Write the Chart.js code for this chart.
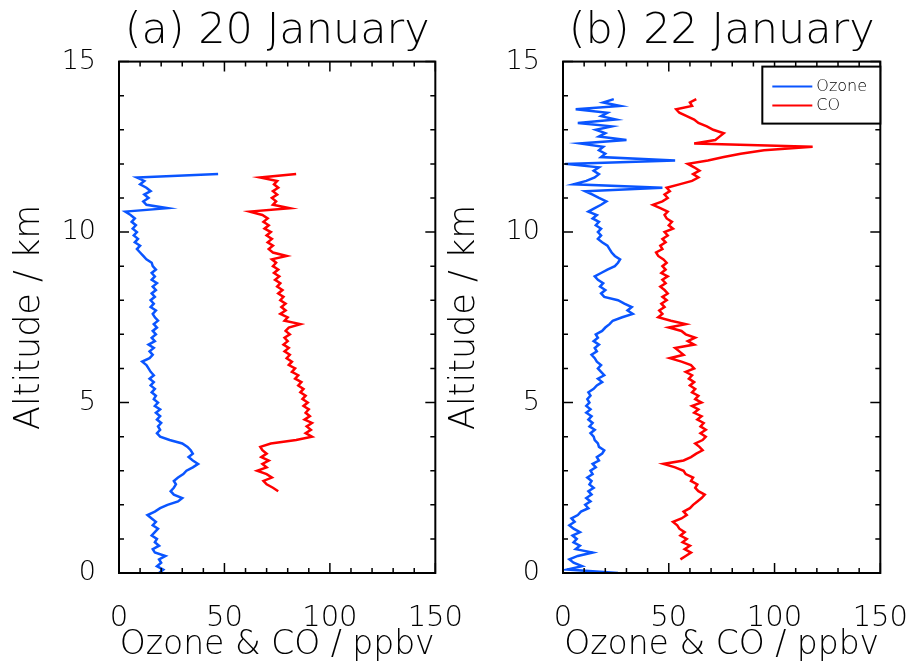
<!DOCTYPE html>
<html lang="en">
<head>
<meta charset="UTF-8">
<title>Ozone & CO profiles</title>
<script src="https://cdn.jsdelivr.net/npm/chart.js"></script>
<style>
    body { margin: 0; background: #fff; overflow: hidden; }
    #wrap { position: relative; width: 915px; height: 671px; overflow: hidden; }
    canvas { position: absolute; top: 0; }
</style>
</head>
<body>
<div id="wrap">
    <canvas id="chartA" width="483" height="671" style="left:0px"></canvas>
    <canvas id="chartB" width="488" height="671" style="left:440px"></canvas>
</div>
<script>
// altitude levels (km), shared by all four profiles
const altitudeKm = [
    0.0, 0.1, 0.2, 0.3, 0.4, 0.5, 0.6, 0.7, 0.8, 0.9,
    1.0, 1.1, 1.2, 1.3, 1.4, 1.5, 1.6, 1.7, 1.8, 1.9,
    2.0, 2.1, 2.2, 2.3, 2.4, 2.5, 2.6, 2.7, 2.8, 2.9,
    3.0, 3.1, 3.2, 3.3, 3.4, 3.5, 3.6, 3.7, 3.8, 3.9,
    4.0, 4.1, 4.2, 4.3, 4.4, 4.5, 4.6, 4.7, 4.8, 4.9,
    5.0, 5.1, 5.2, 5.3, 5.4, 5.5, 5.6, 5.7, 5.8, 5.9,
    6.0, 6.1, 6.2, 6.3, 6.4, 6.5, 6.6, 6.7, 6.8, 6.9,
    7.0, 7.1, 7.2, 7.3, 7.4, 7.5, 7.6, 7.7, 7.8, 7.9,
    8.0, 8.1, 8.2, 8.3, 8.4, 8.5, 8.6, 8.7, 8.8, 8.9,
    9.0, 9.1, 9.2, 9.3, 9.4, 9.5, 9.6, 9.7, 9.8, 9.9,
    10.0, 10.1, 10.2, 10.3, 10.4, 10.5, 10.6, 10.7, 10.8, 10.9,
    11.0, 11.1, 11.2, 11.3, 11.4, 11.5, 11.6, 11.7, 11.8, 11.9,
    12.0, 12.1, 12.2, 12.3, 12.4, 12.5, 12.6, 12.7, 12.8, 12.9,
    13.0, 13.1, 13.2, 13.3, 13.4, 13.5, 13.6, 13.7, 13.8, 13.9,
    14.0
];

// (a) 20 January, ppbv
const ozoneJan20 = [
    19, 21, 18, 20, 19, 22, 17, 16, 19, 17,
    18, 15.5, 17, 18.5, 16, 17.5, 15.5, 13.5, 17, 19.5,
    23, 28, 30, 26, 24.5, 26, 27, 26, 28, 30.5,
    32, 35, 37.5, 35, 33, 35, 34, 32.5, 30, 24,
    19.5, 18, 19.5, 18.5, 20, 18, 19.5, 17.5, 19.5, 17,
    18.5, 16.5, 17.5, 15.5, 17, 15, 16.5, 14.5, 16.5, 15,
    14, 13, 11, 14.5, 16, 14.5, 16.5, 14, 17, 15.5,
    17.5, 16, 18, 16.5, 18.5, 17, 16, 17.5, 15, 16.5,
    15, 17, 15.5, 17.5, 16, 18, 15.5, 17, 15.5, 17.5,
    16, 15.5, 13, 11.5, 10, 8.5, 10, 7.5, 9, 7,
    8.5, 6.5, 8, 6, 7.5, 5.5, 3, 23, 13, 11.5,
    14, 12, 15, 13, 10, 12, 8.5, 47, null, null,
    null, null, null, null, null, null, null, null, null, null,
    null, null, null, null, null, null, null, null, null, null,
    null
];
const coJan20 = [
    null, null, null, null, null, null, null, null, null, null,
    null, null, null, null, null, null, null, null, null, null,
    null, null, null, null, 75.5, 73, 70, 68.5, 72.5, 70,
    65.5, 70, 68, 71, 67.5, 70, 68, 67, 72, 84,
    91.5, 88.5, 91, 89, 91.5, 88, 90.5, 88.5, 90, 87.5,
    89.5, 87, 88.5, 86, 87.5, 85, 86.5, 83.5, 85, 82,
    83.5, 80.5, 82, 79.5, 81, 78.5, 80.5, 78, 80, 78.5,
    81, 79, 80.5, 86, 78.5, 80, 76.5, 79, 77, 79,
    76.5, 78, 75.5, 77.5, 75, 76.5, 74, 76, 73.5, 75.5,
    73, 74.5, 72.5, 79.5, 73, 71, 73, 70.5, 72.5, 70,
    72, 69, 71, 68.5, 70.5, 68, 62, 81, 73, 74.5,
    72.5, 75, 73, 75.5, 73.5, 75, 67, 84, null, null,
    null, null, null, null, null, null, null, null, null, null,
    null, null, null, null, null, null, null, null, null, null,
    null
];

// (b) 22 January, ppbv
const ozoneJan22 = [
    26, 2, 9, 5, 3, 7, 14, 6, 8, 5,
    6.5, 4.5, 8, 5, 3, 5.5, 4, 7, 8.5, 12,
    10.5, 13, 11, 13.5, 12, 14.5, 12.5, 13.5, 11.5, 14,
    13, 15.5, 14, 17, 16, 18.5, 19.5, 17, 16.5, 15,
    14.5, 13, 15, 12.5, 14, 12, 13.5, 11, 13, 11,
    12.5, 11.5, 13, 12, 14.5, 16, 18.5, 16.5, 19.5, 18,
    16.5, 18, 16, 15, 13.5, 16, 15, 17, 14.5, 16.5,
    15.5, 18.5, 20, 22, 23.5, 28, 33, 30.5, 32.5, 29,
    26, 19.5, 18, 20, 17.5, 19, 16.5, 15, 18, 21,
    24.5, 26, 27, 24.5, 23, 22, 21, 18.5, 16.5, 18,
    16.5, 18, 15.5, 17, 14, 16, 12, 15, 18, 20.5,
    17, 14, 10.5, 47, 5, 11, 15, 17, 14.5, 17,
    1, 53, 18, 20, 17, 19, 8, 30, 17, 20,
    15.5, 23, 7, 25, 18, 21, 6, 27, 19, 24,
    null
];
const coJan22 = [
    null, null, null, null, 55.5, 58, 60.5, 57.5, 60, 56.5,
    58.5, 55.5, 57.5, 55, 54, 52, 56, 58.5, 57, 60,
    61.5, 63.5, 65.5, 67, 64, 62.5, 63.5, 60.5, 61.5, 58,
    57, 53, 47.5, 57, 60.5, 63, 66, 64.5, 62.5, 66,
    67.5, 65, 67.5, 65, 66.5, 63.5, 65.5, 62, 64, 61,
    65.5, 62.5, 64, 61, 62.5, 60, 62, 59.5, 61, 58,
    62, 60.5, 56, 50.5, 57, 55, 53, 62, 59, 62.5,
    58, 56, 50, 58, 51, 45, 47, 45.5, 48, 46.5,
    49, 47, 49.5, 48, 46, 48.5, 47, 49.5, 46.5, 48.5,
    47, 49, 47.5, 45, 44, 47, 46, 48.5, 47, 49.5,
    48, 52, 50, 51.5, 49, 48, 49.5, 46, 42.5, 47,
    49.5, 48, 50.5, 49, 55, 61, 64, 61.5, 64.5, 62,
    59, 68.5, 76, 84, 95, 118, 62, 72, 74, 76,
    71, 68, 64, 62, 58.5, 55, 53.5, 61, 60, 63,
    null
];

const xTickMarks = [0, 10, 20, 30, 40, 50, 60, 70, 80, 90, 100, 110, 120, 130, 140, 150];
const xMajor = [0, 50, 100, 150];
const yTickMarks = [0, 1, 2, 3, 4, 5, 6, 7, 8, 9, 10, 11, 12, 13, 14, 15];
const yMajor = [0, 5, 10, 15];

const BLUE = '#0a55ff';
const RED = '#ff0000';
const FONT = '"DejaVu Sans", sans-serif';

Chart.defaults.color = '#000';
Chart.defaults.font.family = FONT;
Chart.defaults.font.weight = 200;

function profile(values) {
    return altitudeKm.map(function (a, i) {
        return { x: values[i], y: a };
    }).filter(function (p) { return p.x !== null; });
}

// IDL-like frame with inward ticks on all four sides
const frameTicks = {
    id: 'frameTicks',
    afterDatasetsDraw(chart) {
        const ctx = chart.ctx;
        const a = chart.chartArea;
        const sx = chart.scales.x, sy = chart.scales.y;
        ctx.save();
        ctx.strokeStyle = '#000';
        ctx.lineWidth = 1.5;
        ctx.beginPath();
        xTickMarks.forEach(function (v) {
            const px = sx.getPixelForValue(v);
            const len = xMajor.includes(v) ? 10 : 5;
            ctx.moveTo(px, a.bottom); ctx.lineTo(px, a.bottom - len);
            ctx.moveTo(px, a.top); ctx.lineTo(px, a.top + len);
        });
        yTickMarks.forEach(function (v) {
            const py = sy.getPixelForValue(v);
            const len = yMajor.includes(v) ? 10 : 5;
            ctx.moveTo(a.left, py); ctx.lineTo(a.left + len, py);
            ctx.moveTo(a.right, py); ctx.lineTo(a.right - len, py);
        });
        ctx.stroke();
        ctx.lineWidth = 2;
        ctx.strokeRect(a.left, a.top, a.right - a.left, a.bottom - a.top);
        ctx.restore();
    }
};

// boxed legend in the upper right corner of the plot
const boxLegend = {
    id: 'boxLegend',
    afterDraw(chart) {
        const ctx = chart.ctx;
        const a = chart.chartArea;
        const w = 118, h = 57;
        const x0 = a.right - w, y0 = a.top + 5;
        ctx.save();
        ctx.fillStyle = '#fff';
        ctx.fillRect(x0, y0, w, h);
        ctx.strokeStyle = '#000';
        ctx.lineWidth = 2;
        ctx.strokeRect(x0, y0, w, h);
        ctx.font = '200 16px ' + FONT;
        ctx.textBaseline = 'middle';
        chart.data.datasets.forEach(function (ds, i) {
            const y = y0 + 20 + i * 19;
            ctx.strokeStyle = ds.borderColor;
            ctx.lineWidth = 2;
            ctx.beginPath();
            ctx.moveTo(x0 + 10, y); ctx.lineTo(x0 + 50, y);
            ctx.stroke();
            ctx.fillStyle = '#000';
            ctx.fillText(ds.label, x0 + 54, y);
        });
        ctx.restore();
    }
};

function makeChart(id, title, ozone, co, yWidth, yTitlePad, plugins) {
    return new Chart(document.getElementById(id), {
        type: 'scatter',
        data: {
            datasets: [
                { label: 'Ozone', data: profile(ozone), borderColor: BLUE, backgroundColor: BLUE },
                { label: 'CO', data: profile(co), borderColor: RED, backgroundColor: RED }
            ]
        },
        options: {
            responsive: false,
            animation: false,
            showLine: true,
            elements: {
                point: { radius: 0 },
                line: { borderWidth: 2.5, tension: 0 }
            },
            layout: { padding: { left: 0, right: 35, top: 0, bottom: 0 } },
            plugins: {
                legend: { display: false },
                tooltip: { enabled: false },
                title: {
                    display: true,
                    text: title,
                    fullSize: false,
                    color: '#000',
                    font: { size: 43, weight: 200 },
                    padding: { top: 6, bottom: 4 }
                }
            },
            scales: {
                x: {
                    type: 'linear',
                    min: 0, max: 150,
                    grid: { display: false },
                    border: { display: false },
                    ticks: { stepSize: 50, padding: 20, font: { size: 29 }, maxRotation: 0 },
                    title: {
                        display: true,
                        text: 'Ozone & CO / ppbv',
                        font: { size: 33 },
                        padding: { top: 0, bottom: 6 }
                    },
                    afterFit: function (scale) { scale.height = 98; }
                },
                y: {
                    type: 'linear',
                    min: 0, max: 15,
                    grid: { display: false },
                    border: { display: false },
                    ticks: { stepSize: 5, padding: 15, font: { size: 27 } },
                    title: {
                        display: true,
                        text: 'Altitude / km',
                        font: { size: 35 },
                        padding: { top: yTitlePad, bottom: 0 }
                    },
                    afterFit: function (scale) { scale.width = yWidth; }
                }
            }
        },
        plugins: plugins
    });
}

makeChart('chartA', '(a) 20 January', ozoneJan20, coJan20, 119, 9, [frameTicks]);
makeChart('chartB', '(b) 22 January', ozoneJan22, coJan22, 123, 4, [frameTicks, boxLegend]);
</script>
</body>
</html>
